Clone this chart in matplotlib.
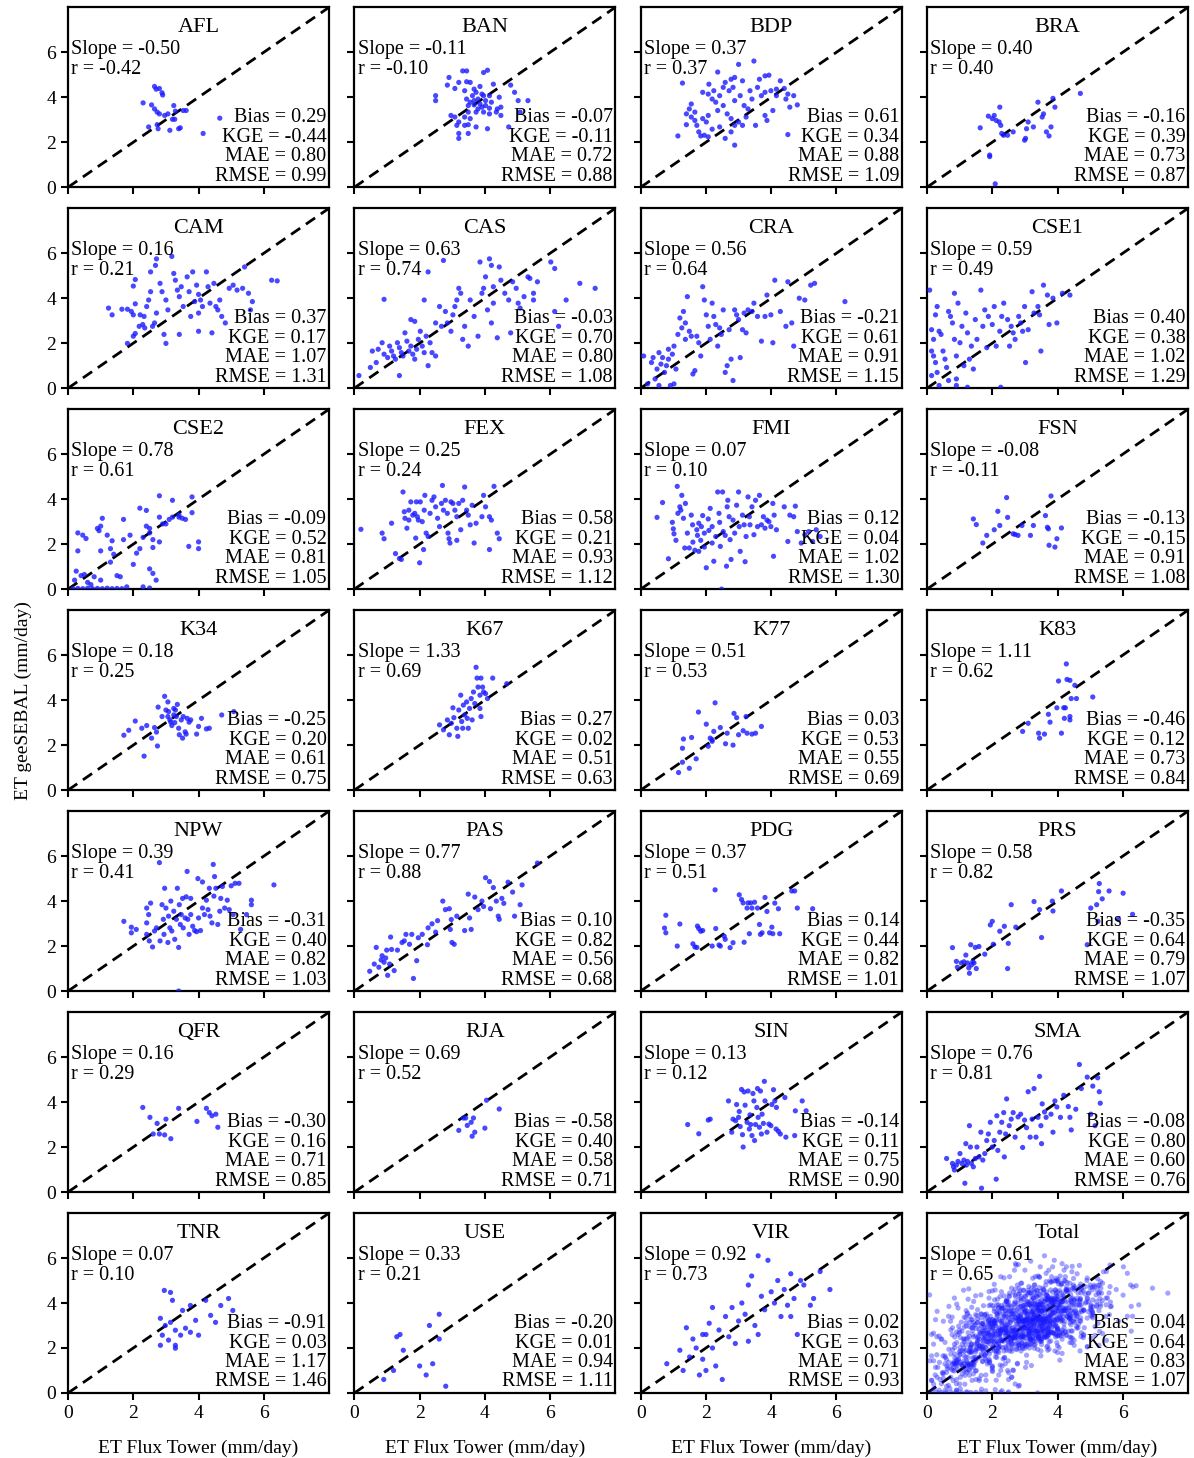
import numpy as np
import matplotlib
matplotlib.use('Agg')
import matplotlib.pyplot as plt

plt.rcParams['font.family'] = ['Liberation Serif', 'DejaVu Serif']

# ---------------------------------------------------------
# Site names and statistics
# ---------------------------------------------------------
sites = ['AFL', 'BAN', 'BDP', 'BRA', 'CAM', 'CAS', 'CRA', 'CSE1', 'CSE2', 'FEX',
         'FMI', 'FSN', 'K34', 'K67', 'K77', 'K83', 'NPW', 'PAS', 'PDG', 'PRS',
         'QFR', 'RJA', 'SIN', 'SMA', 'TNR', 'USE', 'VIR', 'Total']
slope = [-0.50, -0.11, 0.37, 0.40, 0.16, 0.63, 0.56, 0.59, 0.78, 0.25,
         0.07, -0.08, 0.18, 1.33, 0.51, 1.11, 0.39, 0.77, 0.37, 0.58,
         0.16, 0.69, 0.13, 0.76, 0.07, 0.33, 0.92, 0.61]
r_val = [-0.42, -0.10, 0.37, 0.40, 0.21, 0.74, 0.64, 0.49, 0.61, 0.24,
         0.10, -0.11, 0.25, 0.69, 0.53, 0.62, 0.41, 0.88, 0.51, 0.82,
         0.29, 0.52, 0.12, 0.81, 0.10, 0.21, 0.73, 0.65]
bias = [0.29, -0.07, 0.61, -0.16, 0.37, -0.03, -0.21, 0.40, -0.09, 0.58,
        0.12, -0.13, -0.25, 0.27, 0.03, -0.46, -0.31, 0.10, 0.14, -0.35,
        -0.30, -0.58, -0.14, -0.08, -0.91, -0.20, 0.02, 0.04]
kge = [-0.44, -0.11, 0.34, 0.39, 0.17, 0.70, 0.61, 0.38, 0.52, 0.21,
       0.04, -0.15, 0.20, 0.02, 0.53, 0.12, 0.40, 0.82, 0.44, 0.64,
       0.16, 0.40, 0.11, 0.80, 0.03, 0.01, 0.63, 0.64]
mae = [0.80, 0.72, 0.88, 0.73, 1.07, 0.80, 0.91, 1.02, 0.81, 0.93,
       1.02, 0.91, 0.61, 0.51, 0.55, 0.73, 0.82, 0.56, 0.82, 0.79,
       0.71, 0.58, 0.75, 0.60, 1.17, 0.94, 0.71, 0.83]
rmse = [0.99, 0.88, 1.09, 0.87, 1.31, 1.08, 1.15, 1.29, 1.05, 1.12,
        1.30, 1.08, 0.75, 0.63, 0.69, 0.84, 1.03, 0.68, 1.01, 1.07,
        0.85, 0.71, 0.90, 0.76, 1.46, 1.11, 0.93, 1.07]

# ---------------------------------------------------------
# (ET flux tower, ET geeSEBAL) pairs per site, mm/day
# ---------------------------------------------------------
afl = [(2.65, 4.48), (2.7, 4.36), (2.8, 4.39), (2.88, 4.2), (2.9, 4.1), (2.3, 3.75),
       (2.56, 3.66), (2.65, 3.48), (2.73, 3.34), (2.8, 3.26), (2.96, 3.19), (3.06, 3.26),
       (3.24, 3.63), (3.29, 3.38), (3.53, 3.41), (3.62, 3.41), (3.2, 3.02), (3.27, 3.02),
       (2.47, 2.68), (2.73, 2.78), (2.76, 2.6), (3.12, 2.53), (3.39, 2.6), (3.44, 2.64),
       (4.14, 2.39), (4.65, 3.07)]
ban = [(2.49, 4.07), (2.49, 3.85), (2.9, 4.88), (2.85, 4.54), (3.08, 4.39), (3.32, 5.17),
       (3.44, 5.17), (3.96, 5.1), (4.08, 5.2), (3.2, 4.66), (3.44, 4.69), (3.55, 4.66),
       (3.38, 4.29), (3.67, 4.36), (3.85, 4.48), (4.26, 4.58), (4.79, 4.54), (3.44, 3.92),
       (3.62, 4.07), (3.79, 3.92), (3.96, 4.07), (4.02, 3.85), (4.2, 3.78), (4.44, 4.0),
       (4.91, 4.22), (3.49, 3.63), (3.67, 3.66), (3.91, 3.56), (4.14, 3.51), (4.38, 3.48),
       (4.49, 3.56), (5.02, 3.85), (5.32, 3.85), (3.49, 3.34), (3.73, 3.34), (3.96, 3.34),
       (4.14, 3.26), (4.35, 3.34), (3.38, 3.12), (3.08, 3.12), (2.96, 3.19), (3.55, 3.05),
       (3.2, 2.9), (3.14, 2.75), (3.38, 2.75), (3.49, 2.78), (3.73, 2.68), (4.08, 2.6),
       (3.2, 2.39), (3.49, 2.39), (3.2, 2.17), (4.73, 2.68), (4.49, 3.19), (5.08, 3.34),
       (3.67, 3.85), (3.85, 3.7), (4.02, 3.63), (3.79, 3.48), (3.55, 3.78), (3.91, 4.14),
       (4.14, 4.07), (3.73, 4.22)]
bdp = [(1.14, 2.28), (1.28, 4.63), (1.4, 3.26), (1.49, 3.48), (1.55, 3.7), (1.4, 2.78),
       (1.66, 2.97), (1.72, 2.75), (1.78, 2.46), (1.84, 2.28), (1.95, 2.31), (2.07, 2.24),
       (1.9, 4.22), (2.07, 4.14), (2.09, 4.58), (1.9, 3.05), (2.01, 2.9), (2.07, 3.19),
       (2.19, 3.92), (2.3, 3.78), (2.42, 4.07), (2.24, 4.29), (2.36, 5.12), (2.53, 4.44),
       (2.59, 4.66), (2.71, 4.29), (2.77, 4.8), (2.83, 4.44), (3.0, 5.46), (3.12, 4.73),
       (2.88, 4.88), (2.36, 3.41), (2.53, 3.63), (2.65, 3.26), (2.77, 3.05), (2.88, 2.75),
       (3.0, 2.9), (3.12, 2.75), (3.23, 3.12), (3.29, 3.48), (3.41, 3.92), (3.35, 4.29),
       (3.47, 5.61), (3.58, 4.44), (3.64, 4.8), (3.81, 4.95), (3.93, 4.98), (3.7, 4.07),
       (3.81, 4.22), (3.99, 4.29), (4.16, 4.36), (4.28, 4.73), (4.16, 4.07), (4.4, 4.39),
       (4.51, 4.14), (4.45, 3.92), (4.69, 4.07), (4.57, 3.56), (4.8, 3.66), (4.05, 3.41),
       (3.81, 3.19), (3.87, 2.97), (3.52, 2.75), (2.88, 1.87), (2.59, 2.17), (2.77, 2.46),
       (2.19, 2.58), (2.42, 2.68), (4.51, 2.34), (2.88, 3.85), (3.05, 4.07), (3.17, 3.63),
       (1.55, 3.12), (1.66, 3.34)]
bra = [(1.63, 2.64), (1.88, 3.16), (2.06, 3.19), (2.23, 3.56), (2.12, 2.97), (2.21, 2.9),
       (2.26, 2.75), (2.29, 2.39), (2.35, 2.31), (2.47, 2.31), (2.64, 2.46), (2.99, 2.09),
       (3.02, 2.17), (3.05, 2.6), (3.1, 2.9), (3.26, 2.68), (3.4, 3.78), (3.53, 3.12),
       (3.57, 3.26), (3.8, 2.68), (3.66, 2.46), (3.74, 2.28), (3.86, 3.95), (3.92, 3.56),
       (4.7, 4.17), (1.92, 1.43), (1.92, 1.36), (2.09, 0.15), (2.0, 3.05)]
cam = [(1.24, 3.56), (1.35, 3.26), (1.65, 3.51), (1.82, 3.51), (1.94, 3.41), (2.0, 3.26),
       (2.06, 3.75), (2.0, 4.54), (2.06, 4.83), (1.82, 1.99), (2.0, 2.31), (2.06, 2.43),
       (2.18, 2.75), (2.29, 2.83), (2.35, 2.68), (2.21, 3.26), (2.33, 3.19), (2.41, 3.63),
       (2.47, 3.92), (2.53, 4.29), (2.59, 2.75), (2.65, 2.9), (2.71, 3.34), (2.53, 5.17),
       (2.68, 5.46), (2.71, 5.75), (2.82, 4.66), (2.88, 4.29), (3.0, 3.92), (3.06, 3.48),
       (2.94, 2.39), (3.0, 1.99), (3.18, 5.86), (3.24, 5.1), (3.29, 4.8), (3.35, 4.36),
       (3.41, 4.07), (3.47, 4.51), (3.53, 3.63), (3.41, 2.39), (3.65, 4.95), (3.71, 4.29),
       (3.82, 5.17), (3.88, 3.85), (3.94, 4.58), (4.0, 4.17), (4.06, 3.92), (4.12, 3.63),
       (4.0, 2.53), (4.24, 5.17), (4.29, 4.51), (4.35, 3.78), (4.41, 2.46), (4.47, 4.66),
       (4.53, 3.63), (4.59, 3.48), (4.65, 3.92), (4.71, 3.19), (4.82, 2.9), (4.94, 4.44),
       (5.06, 4.58), (5.18, 4.36), (5.35, 4.44), (5.41, 5.39), (5.59, 3.48), (5.65, 3.85),
       (6.24, 4.8), (6.41, 4.77), (5.53, 4.22), (3.76, 3.19), (4.0, 3.34)]
cas = [(0.14, 0.56), (0.49, 0.92), (0.67, 1.14), (0.55, 1.65), (0.73, 1.73), (0.85, 2.02),
       (0.91, 1.51), (1.02, 1.36), (1.08, 1.87), (1.14, 1.65), (1.2, 1.43), (1.26, 1.29),
       (1.32, 2.02), (1.38, 1.8), (1.44, 1.58), (1.49, 1.43), (1.38, 0.56), (1.55, 2.46),
       (1.61, 2.09), (1.67, 1.65), (1.73, 1.87), (1.79, 1.51), (1.85, 1.29), (1.91, 1.73),
       (1.73, 3.05), (1.85, 2.97), (1.96, 2.17), (2.02, 2.53), (2.08, 1.87), (2.14, 1.58),
       (2.2, 2.31), (2.26, 1.0), (2.32, 2.02), (2.38, 1.58), (2.49, 1.43), (0.91, 3.95),
       (2.14, 3.92), (2.26, 5.17), (2.61, 3.63), (2.73, 5.68), (2.79, 3.41), (2.85, 2.9),
       (2.96, 2.53), (3.02, 3.26), (3.08, 3.63), (3.14, 3.92), (3.2, 4.44), (3.26, 4.22),
       (3.32, 2.17), (3.38, 2.75), (3.49, 1.87), (3.55, 3.92), (3.67, 3.19), (3.79, 2.31),
       (3.85, 5.61), (3.91, 4.22), (3.96, 4.44), (4.02, 4.95), (4.08, 3.48), (4.14, 5.75),
       (4.2, 5.46), (4.26, 4.51), (4.26, 3.78), (4.2, 2.9), (4.38, 2.24), (4.44, 5.39),
       (4.49, 4.8), (4.61, 4.22), (4.73, 3.92), (4.79, 2.46), (4.85, 4.73), (4.96, 4.44),
       (5.02, 3.78), (5.08, 3.56), (5.2, 4.07), (5.32, 4.95), (5.38, 4.88), (5.49, 4.22),
       (5.49, 3.92), (5.61, 4.73), (6.02, 5.61), (6.14, 5.32), (6.14, 3.41), (6.91, 4.66),
       (7.38, 4.44), (6.49, 3.92), (6.26, 2.75), (2.49, 2.9), (2.67, 2.75)]
cra = [(0.09, 1.43), (0.33, 1.14), (0.38, 1.36), (0.44, 0.41), (0.5, 0.85), (0.62, 1.07),
       (0.56, 1.58), (0.67, 1.36), (0.73, 0.7), (0.79, 1.0), (0.85, 1.29), (0.91, 0.12),
       (0.85, 1.73), (0.97, 1.51), (1.02, 1.87), (1.08, 0.85), (1.14, 2.39), (1.2, 3.12),
       (1.26, 2.68), (1.31, 3.41), (1.37, 2.9), (1.37, 2.17), (1.43, 4.07), (1.49, 2.53),
       (1.55, 2.31), (1.6, 0.63), (1.66, 0.78), (1.72, 2.31), (1.78, 2.02), (1.84, 1.43),
       (1.9, 4.51), (1.95, 3.92), (2.01, 3.26), (2.07, 2.75), (2.13, 2.17), (2.19, 3.78),
       (2.24, 3.19), (2.3, 2.83), (2.36, 1.87), (2.42, 2.68), (2.47, 2.39), (2.53, 3.48),
       (2.59, 0.7), (2.65, 1.0), (2.71, 2.6), (2.77, 1.29), (2.83, 0.34), (2.88, 3.48),
       (2.94, 3.26), (3.0, 3.05), (3.05, 1.36), (3.12, 2.6), (3.17, 3.34), (3.23, 2.46),
       (3.29, 3.48), (3.41, 3.41), (3.47, 3.78), (3.58, 3.19), (3.7, 2.09), (3.81, 3.19),
       (3.87, 4.14), (3.99, 3.26), (4.05, 2.02), (4.11, 4.8), (4.28, 3.41), (4.45, 2.75),
       (4.51, 4.73), (4.63, 2.9), (4.86, 4.0), (5.03, 3.92), (5.21, 4.58), (5.33, 4.66),
       (6.26, 3.85), (4.69, 1.87), (0.56, 0.12), (1.02, 0.19), (0.21, 0.19)]
cse1 = [(0.08, 4.36), (0.14, 2.6), (0.2, 2.17), (0.14, 1.65), (0.2, 1.43), (0.26, 1.14),
        (0.14, 0.56), (0.31, 0.7), (0.37, 0.12), (0.26, 3.26), (0.31, 3.63), (0.37, 2.53),
        (0.43, 2.39), (0.49, 1.65), (0.55, 1.29), (0.6, 0.92), (0.66, 3.41), (0.66, 0.34),
        (0.72, 3.19), (0.78, 2.9), (0.84, 4.22), (0.84, 2.17), (0.9, 1.43), (0.9, 0.41),
        (0.95, 3.78), (1.01, 2.02), (1.07, 2.75), (1.13, 1.0), (1.19, 3.34), (1.24, 2.46),
        (1.3, 1.29), (1.36, 1.87), (1.42, 0.85), (1.48, 3.05), (1.53, 2.17), (1.65, 4.36),
        (1.71, 2.75), (1.77, 3.48), (1.83, 1.8), (1.88, 3.19), (2.0, 2.83), (2.06, 3.63),
        (2.12, 1.87), (2.23, 2.53), (2.29, 3.19), (2.35, 3.78), (2.47, 3.05), (2.53, 1.87),
        (2.58, 2.75), (2.64, 2.46), (2.7, 2.17), (2.81, 3.19), (2.87, 2.9), (2.93, 2.53),
        (2.99, 3.63), (3.02, 1.14), (3.1, 2.6), (3.22, 4.29), (3.28, 3.34), (3.4, 3.63),
        (3.45, 3.26), (3.49, 1.65), (3.57, 4.58), (3.69, 4.14), (3.74, 2.83), (3.86, 4.0),
        (3.98, 2.9), (4.15, 4.22), (4.38, 4.14), (2.26, 0.04), (1.24, 0.04), (0.9, 0.12)]
cse2 = [(0.15, 0.02), (0.3, 0.03), (0.45, 0.02), (0.6, 0.04), (0.75, 0.02), (0.9, 0.03),
        (1.05, 0.02), (1.2, 0.04), (1.35, 0.02), (1.5, 0.03), (1.65, 0.02), (1.8, 0.1),
        (2.3, 0.1), (2.5, 0.05), (0.2, 0.4), (0.25, 0.8), (0.4, 0.6), (0.5, 0.65),
        (0.6, 0.3), (0.7, 0.2), (0.8, 0.55), (1.0, 0.4), (0.3, 2.5), (0.45, 2.4),
        (0.55, 2.25), (0.3, 1.7), (0.9, 2.7), (0.95, 2.6), (1.0, 2.8), (1.05, 3.15),
        (1.0, 1.7), (1.2, 2.4), (1.3, 1.8), (1.35, 2.15), (1.4, 1.55), (1.3, 1.2),
        (1.5, 0.6), (1.6, 0.55), (1.7, 2.2), (1.7, 3.1), (1.9, 2.4), (2.0, 1.1),
        (2.1, 1.6), (2.2, 1.8), (2.2, 3.6), (2.4, 3.5), (2.3, 2.3), (2.4, 2.8),
        (2.5, 2.7), (2.6, 2.2), (2.6, 1.85), (2.5, 0.9), (2.6, 0.7), (2.7, 0.4),
        (2.5, 2.5), (2.8, 3.2), (2.9, 2.9), (2.8, 2.1), (2.8, 4.15), (3.2, 3.95),
        (3.0, 2.9), (3.1, 3.1), (3.2, 3.2), (3.4, 3.2), (3.6, 3.1), (3.5, 3.15),
        (3.8, 4.1), (3.8, 3.4), (3.4, 3.3), (3.7, 1.9), (4.0, 2.1), (4.0, 1.8)]
fex = [(0.2, 2.66), (0.85, 2.49), (0.91, 2.24), (1.14, 2.93), (1.26, 1.58), (1.38, 1.36),
       (1.44, 1.32), (1.49, 4.32), (1.53, 3.44), (1.55, 3.15), (1.61, 2.71), (1.67, 3.07),
       (1.73, 3.88), (1.79, 3.29), (1.85, 3.37), (1.88, 2.27), (1.93, 3.22), (1.96, 3.07),
       (2.0, 1.17), (2.02, 3.88), (2.08, 3.0), (2.12, 1.76), (2.14, 3.51), (2.16, 4.17),
       (2.2, 2.49), (2.26, 2.34), (2.32, 3.37), (2.38, 3.95), (2.44, 4.1), (2.49, 3.66),
       (2.55, 3.15), (2.61, 2.78), (2.67, 3.81), (2.7, 4.61), (2.73, 3.51), (2.79, 3.95),
       (2.85, 3.37), (2.87, 2.49), (2.9, 2.24), (2.93, 2.05), (2.96, 3.88), (3.02, 3.81),
       (3.08, 3.51), (3.14, 3.22), (3.14, 2.17), (3.2, 3.81), (3.26, 2.64), (3.32, 3.95),
       (3.38, 4.54), (3.44, 3.51), (3.49, 3.29), (3.55, 2.86), (3.61, 3.73), (3.67, 2.05),
       (3.73, 2.93), (3.91, 3.22), (3.96, 4.17), (4.02, 3.66), (4.14, 3.22), (4.2, 3.07),
       (4.28, 4.57), (4.38, 2.49), (4.44, 2.24), (4.14, 1.76), (1.67, 3.51), (1.9, 3.88)]
fmi = [(0.5, 3.19), (0.67, 3.85), (0.85, 1.35), (0.97, 2.97), (1.0, 2.68), (1.02, 2.46),
       (1.08, 2.17), (1.12, 4.57), (1.14, 3.37), (1.2, 3.66), (1.23, 3.51), (1.26, 4.17),
       (1.31, 3.15), (1.35, 1.83), (1.37, 3.81), (1.43, 2.49), (1.49, 1.83), (1.55, 3.29),
       (1.59, 2.86), (1.6, 2.09), (1.66, 1.73), (1.72, 2.64), (1.74, 2.39), (1.78, 1.68),
       (1.84, 2.17), (1.86, 2.78), (1.9, 3.27), (1.95, 1.87), (2.01, 0.95), (2.07, 3.12),
       (2.09, 2.61), (2.13, 3.59), (2.19, 2.78), (2.24, 1.24), (2.3, 2.34), (2.36, 4.32),
       (2.4, 3.37), (2.42, 2.97), (2.44, 1.9), (2.48, 0.0), (2.51, 4.32), (2.53, 2.56),
       (2.59, 2.39), (2.63, 1.02), (2.65, 3.66), (2.67, 3.95), (2.71, 3.22), (2.74, 2.2),
       (2.77, 1.32), (2.83, 3.07), (2.88, 2.49), (2.94, 3.73), (3.0, 4.32), (3.02, 2.78),
       (3.05, 1.68), (3.12, 3.29), (3.17, 2.86), (3.2, 1.22), (3.23, 2.34), (3.29, 4.1),
       (3.33, 3.22), (3.35, 2.86), (3.41, 3.66), (3.47, 2.42), (3.52, 3.95), (3.58, 2.78),
       (3.64, 4.17), (3.7, 2.86), (3.76, 3.22), (3.81, 2.71), (3.87, 3.07), (3.93, 3.0),
       (3.99, 2.78), (4.05, 3.81), (4.07, 1.46), (4.09, 3.29), (4.16, 2.64), (4.4, 3.66),
       (4.51, 2.12), (4.57, 3.29), (4.69, 3.22), (4.74, 3.69), (4.8, 2.56), (4.92, 2.05),
       (5.03, 2.42), (5.15, 2.56), (5.27, 2.12), (5.38, 2.64), (5.5, 2.34), (1.78, 2.93),
       (1.95, 2.49), (2.19, 2.05)]
fsn = [(1.42, 3.12), (1.51, 2.87), (1.71, 2.05), (1.83, 2.39), (2.06, 2.64), (2.17, 3.46),
       (2.23, 2.83), (2.44, 4.07), (2.47, 3.19), (2.64, 2.46), (2.7, 2.43), (2.79, 2.39),
       (2.91, 2.83), (3.17, 2.39), (3.26, 2.83), (3.63, 3.27), (3.69, 2.75), (3.8, 4.14),
       (3.74, 1.95), (3.92, 1.87), (3.98, 2.24), (4.12, 2.72), (3.72, 2.68)]
k34 = [(1.71, 2.44), (1.86, 2.66), (2.06, 3.07), (2.33, 1.51), (2.26, 2.75), (2.41, 2.87),
       (2.56, 2.31), (2.65, 2.78), (2.71, 2.58), (2.74, 1.96), (2.76, 3.69), (2.88, 3.27),
       (2.96, 4.17), (3.0, 3.56), (3.06, 3.27), (3.08, 3.49), (3.12, 3.12), (3.15, 3.02),
       (3.18, 2.87), (3.24, 3.34), (3.27, 3.0), (3.29, 3.56), (3.32, 3.27), (3.35, 3.81),
       (3.39, 2.75), (3.41, 2.46), (3.47, 3.12), (3.51, 2.31), (3.53, 3.27), (3.59, 2.59),
       (3.62, 2.49), (3.65, 3.19), (3.71, 3.02), (3.76, 3.12), (3.94, 2.49), (4.0, 2.83),
       (4.09, 3.19), (4.24, 2.72), (4.33, 2.75), (4.71, 3.34), (5.08, 3.49), (3.24, 3.63),
       (3.06, 3.92)]
k67 = [(2.61, 2.9), (2.73, 2.68), (2.85, 3.12), (2.91, 2.46), (3.02, 3.66), (3.05, 3.22),
       (3.14, 2.75), (3.17, 2.39), (3.2, 3.56), (3.26, 4.22), (3.29, 3.05), (3.34, 3.78),
       (3.38, 3.34), (3.44, 3.92), (3.46, 3.19), (3.49, 2.75), (3.53, 3.63), (3.58, 4.07),
       (3.61, 3.12), (3.65, 4.36), (3.69, 3.85), (3.73, 5.46), (3.76, 4.98), (3.79, 4.58),
       (3.85, 4.22), (3.88, 4.98), (3.93, 4.58), (3.96, 4.36), (3.85, 3.63), (3.88, 3.27),
       (4.02, 4.29), (4.08, 4.07), (4.24, 4.98), (4.67, 4.73), (3.32, 2.75), (2.97, 2.97)]
k77 = [(1.16, 0.78), (1.28, 1.24), (1.28, 1.86), (1.31, 2.27), (1.49, 0.97), (1.56, 2.34),
       (1.7, 1.39), (1.77, 3.47), (2.01, 2.93), (2.07, 1.95), (2.13, 2.31), (2.19, 2.17),
       (2.24, 2.61), (2.28, 3.88), (2.44, 2.78), (2.6, 2.06), (2.65, 2.53), (2.83, 2.0),
       (2.86, 3.41), (2.94, 3.22), (3.0, 2.46), (3.14, 2.64), (3.23, 3.27), (3.26, 2.53),
       (3.41, 2.49), (3.52, 2.53), (3.7, 2.83), (2.19, 2.24)]
k83 = [(2.93, 2.61), (3.1, 2.97), (3.42, 2.53), (3.45, 2.31), (3.6, 2.49), (3.72, 3.37),
       (3.77, 3.02), (3.98, 3.66), (4.03, 4.85), (4.12, 2.53), (4.19, 3.66), (4.21, 3.19),
       (4.27, 5.61), (4.29, 4.92), (4.38, 4.88), (4.38, 3.27), (4.42, 4.07), (4.53, 4.66),
       (4.58, 4.07), (5.08, 4.14), (4.38, 3.12), (4.24, 3.66)]
npw = [(1.71, 3.1), (1.94, 2.84), (1.94, 2.59), (2.09, 2.74), (2.41, 2.52), (2.41, 3.03),
       (2.41, 3.69), (2.47, 3.4), (2.49, 2.23), (2.53, 3.91), (2.59, 1.96), (2.65, 2.67),
       (2.71, 2.81), (2.8, 5.71), (2.82, 2.23), (2.88, 3.84), (2.92, 3.19), (2.94, 2.52),
       (2.96, 4.57), (3.0, 3.69), (3.06, 2.16), (3.08, 3.33), (3.12, 2.81), (3.15, 4.0),
       (3.18, 2.67), (3.24, 3.55), (3.27, 2.3), (3.32, 3.19), (3.35, 4.57), (3.39, 1.94),
       (3.41, 3.84), (3.44, 2.96), (3.47, 3.4), (3.51, 4.12), (3.53, 2.81), (3.59, 3.25),
       (3.62, 4.19), (3.65, 5.32), (3.67, 3.19), (3.71, 2.52), (3.76, 4.12), (3.82, 2.88),
       (3.88, 2.69), (3.94, 2.64), (3.98, 5.0), (4.0, 3.25), (4.06, 2.69), (4.12, 4.85),
       (4.18, 3.4), (4.24, 4.04), (4.29, 3.62), (4.33, 4.57), (4.35, 3.33), (4.41, 3.03),
       (4.45, 5.63), (4.47, 4.22), (4.49, 5.09), (4.53, 4.57), (4.59, 2.96), (4.65, 3.55),
       (4.68, 4.12), (4.73, 4.65), (4.8, 3.69), (4.88, 4.04), (4.94, 3.62), (5.0, 4.68),
       (5.06, 3.4), (5.12, 4.79), (5.24, 4.79), (5.29, 2.74), (5.47, 3.4), (5.62, 4.04),
       (5.62, 3.84), (6.31, 4.72), (3.39, 0.0), (4.12, 3.69), (3.76, 3.4)]
pas = [(0.47, 0.88), (0.61, 1.2), (0.67, 1.94), (0.75, 1.06), (0.82, 1.38), (0.85, 1.57),
       (0.91, 1.28), (0.96, 1.47), (0.99, 1.82), (1.02, 0.7), (1.08, 1.2), (1.11, 2.4),
       (1.14, 1.85), (1.22, 0.91), (1.32, 1.82), (1.46, 2.16), (1.53, 2.23), (1.58, 2.52),
       (1.69, 2.08), (1.76, 2.52), (1.81, 0.56), (1.91, 1.35), (1.96, 2.37), (2.08, 2.52),
       (2.24, 2.06), (2.26, 2.81), (2.38, 2.99), (2.55, 3.13), (2.71, 4.0), (2.79, 3.62),
       (2.91, 3.66), (2.94, 2.74), (2.99, 2.16), (3.06, 2.08), (3.14, 3.33), (3.38, 2.69),
       (3.49, 4.31), (3.53, 3.25), (3.58, 2.74), (3.69, 4.18), (3.79, 3.62), (3.91, 4.0),
       (3.96, 3.76), (4.02, 5.04), (4.14, 4.87), (4.17, 3.66), (4.26, 4.6), (4.35, 4.0),
       (4.41, 3.33), (4.44, 3.19), (4.52, 4.12), (4.58, 3.9), (4.71, 4.84), (4.85, 4.4),
       (4.91, 3.33), (5.14, 4.72), (5.08, 3.84), (5.61, 5.69), (2.97, 3.18), (2.49, 2.62)]
pdg = [(0.77, 3.37), (0.73, 2.8), (0.77, 2.59), (1.12, 2.0), (1.2, 2.98), (1.6, 2.1),
       (1.66, 1.96), (1.72, 1.94), (1.74, 2.89), (1.78, 2.78), (1.84, 2.66), (1.9, 2.69),
       (2.19, 2.0), (2.28, 4.5), (2.3, 2.78), (2.4, 2.05), (2.44, 2.0), (2.56, 2.44),
       (2.59, 2.3), (2.74, 1.93), (2.83, 2.15), (3.02, 4.28), (3.09, 4.07), (3.14, 3.92),
       (3.17, 2.17), (3.26, 3.69), (3.29, 3.92), (3.33, 2.55), (3.37, 3.92), (3.41, 3.69),
       (3.49, 3.95), (3.58, 3.69), (3.64, 2.96), (3.67, 2.52), (3.72, 2.59), (3.81, 4.16),
       (3.87, 3.54), (3.95, 2.59), (4.02, 2.84), (4.05, 2.55), (4.11, 3.91), (4.22, 3.66),
       (4.26, 2.55), (4.63, 4.45), (4.72, 4.45), (4.8, 3.69), (5.27, 3.66)]
prs = [(0.78, 1.93), (0.9, 1.32), (0.93, 1.06), (1.05, 1.25), (1.13, 1.3), (1.19, 1.6),
       (1.24, 1.25), (1.28, 1.03), (1.3, 0.79), (1.34, 2.06), (1.36, 1.16), (1.4, 1.3),
       (1.44, 1.25), (1.48, 1.94), (1.51, 1.0), (1.59, 1.98), (1.77, 1.64), (1.94, 2.94),
       (2.0, 3.1), (2.03, 2.08), (2.23, 2.66), (2.37, 2.88), (2.47, 1.0), (2.49, 2.12),
       (2.58, 3.84), (2.72, 2.84), (3.28, 3.98), (3.45, 3.62), (3.51, 2.38), (3.84, 4.0),
       (3.86, 3.56), (4.12, 4.45), (4.91, 2.06), (5.02, 3.69), (5.2, 3.84), (5.26, 4.42),
       (5.28, 4.78), (5.37, 4.1), (5.58, 4.45), (6.01, 4.35), (5.24, 3.1), (5.87, 3.19),
       (6.3, 3.41)]
qfr = [(2.29, 3.76), (2.51, 3.32), (2.61, 2.58), (2.73, 3.05), (2.8, 2.58), (2.96, 2.54),
       (3.0, 3.24), (3.15, 2.37), (3.39, 3.72), (3.95, 3.14), (4.24, 3.72), (4.33, 3.53),
       (4.41, 3.39), (4.53, 3.46), (4.59, 2.88)]
rja = [(3.2, 2.74), (3.34, 3.29), (3.41, 3.29), (3.46, 2.96), (3.58, 3.1), (3.61, 2.48),
       (3.65, 3.29), (3.69, 2.66), (4.0, 2.84), (4.05, 4.08), (4.44, 3.69)]
sin = [(1.44, 3.0), (1.78, 2.59), (2.07, 3.2), (2.13, 3.24), (2.69, 4.05), (2.79, 2.66),
       (2.83, 3.24), (2.91, 3.17), (2.94, 3.89), (3.0, 3.32), (3.02, 3.58), (3.05, 2.91),
       (3.09, 4.56), (3.12, 2.55), (3.14, 2.0), (3.17, 4.45), (3.2, 3.86), (3.26, 3.1),
       (3.29, 4.49), (3.33, 2.8), (3.35, 3.43), (3.37, 3.0), (3.41, 2.51), (3.44, 4.38),
       (3.47, 4.05), (3.49, 2.29), (3.52, 3.0), (3.56, 3.76), (3.58, 4.6), (3.6, 3.32),
       (3.64, 2.88), (3.67, 4.49), (3.7, 2.58), (3.72, 3.46), (3.76, 3.05), (3.79, 4.92),
       (3.81, 4.05), (3.87, 2.66), (3.93, 3.02), (3.99, 2.95), (4.02, 3.89), (4.07, 4.55),
       (4.11, 4.05), (4.15, 2.8), (4.16, 3.76), (4.22, 2.7), (4.28, 2.58), (4.42, 4.2),
       (4.45, 2.44), (4.72, 2.51), (4.74, 3.61), (4.95, 4.05), (5.07, 3.61)]
sma = [(0.6, 1.49), (0.78, 1.27), (0.81, 1.12), (0.84, 0.98), (0.9, 1.2), (0.95, 1.36),
       (1.01, 1.71), (1.07, 1.27), (1.13, 1.42), (1.16, 0.39), (1.19, 2.15), (1.21, 1.2),
       (1.24, 1.36), (1.3, 2.95), (1.33, 2.0), (1.36, 1.27), (1.42, 1.12), (1.48, 1.49),
       (1.53, 2.0), (1.59, 1.56), (1.65, 2.66), (1.67, 0.17), (1.71, 1.42), (1.77, 1.71),
       (1.83, 2.29), (1.88, 2.58), (1.94, 3.1), (2.0, 2.0), (2.06, 2.29), (2.12, 0.57),
       (2.14, 3.39), (2.17, 1.85), (2.23, 2.66), (2.29, 3.1), (2.35, 3.53), (2.37, 1.56),
       (2.41, 2.58), (2.44, 4.14), (2.52, 2.95), (2.58, 3.24), (2.64, 3.53), (2.7, 2.44),
       (2.79, 3.34), (2.87, 3.46), (2.93, 1.98), (2.99, 3.2), (3.05, 2.86), (3.1, 4.46),
       (3.16, 2.44), (3.22, 3.24), (3.28, 4.6), (3.34, 2.44), (3.4, 3.32), (3.45, 5.14),
       (3.49, 2.95), (3.51, 2.15), (3.53, 3.92), (3.6, 3.56), (3.65, 3.32), (3.8, 3.46),
       (3.86, 2.66), (3.92, 4.05), (3.98, 3.78), (4.09, 3.32), (4.19, 4.3), (4.33, 3.8),
       (4.38, 3.32), (4.42, 2.76), (4.56, 3.68), (4.67, 5.67), (4.73, 4.6), (4.91, 5.11),
       (5.02, 3.46), (5.08, 4.71), (5.23, 5.08), (5.28, 4.46), (5.31, 3.95), (5.15, 2.95)]
tnr = [(2.95, 4.56), (3.14, 4.47), (3.2, 4.12), (2.83, 3.32), (2.98, 3.0), (3.14, 3.14),
       (3.29, 2.79), (2.89, 2.57), (3.08, 2.35), (3.29, 2.12), (3.45, 2.57), (3.6, 2.88),
       (3.75, 2.7), (3.91, 3.23), (3.51, 3.67), (3.75, 3.89), (4.22, 4.12), (4.37, 3.45),
       (4.52, 3.14), (4.68, 3.89), (4.92, 4.2), (5.05, 3.67), (3.29, 1.99), (2.83, 2.12),
       (4.0, 2.57)]
use = [(0.9, 0.6), (1.2, 1.0), (1.3, 2.5), (1.4, 2.6), (1.5, 1.9), (2.0, 1.2),
       (2.2, 0.8), (2.3, 3.0), (2.4, 1.3), (2.6, 3.5), (2.6, 2.4), (2.8, 0.3)]
vir = [(0.8, 1.3), (1.3, 1.0), (1.5, 1.6), (1.6, 2.4), (1.7, 2.0), (1.8, 0.8),
       (1.9, 1.5), (2.0, 2.6), (2.1, 3.1), (2.2, 2.0), (2.3, 1.2), (2.4, 2.8),
       (2.5, 0.6), (2.6, 3.4), (2.7, 2.5), (2.8, 3.8), (2.9, 2.2), (3.0, 3.2),
       (3.1, 4.0), (3.2, 3.5), (3.3, 4.8), (3.4, 5.2), (3.5, 3.0), (3.6, 6.1),
       (3.7, 4.3), (3.8, 3.7), (3.9, 5.9), (4.0, 4.5), (4.1, 4.0), (4.2, 5.0),
       (4.3, 3.4), (4.4, 4.6), (4.5, 3.9), (4.6, 5.3), (4.7, 4.2), (4.8, 2.6),
       (4.9, 5.0), (5.0, 4.8), (5.2, 3.9), (5.3, 4.2), (5.5, 5.4), (5.8, 4.6),
       (1.2, 1.9), (2.0, 1.0), (3.3, 2.3), (3.6, 2.6), (4.6, 3.4), (2.2, 3.8),
       (1.4, 2.9), (1.9, 2.6)]

site_points = [afl, ban, bdp, bra, cam, cas, cra, cse1, cse2, fex, fmi, fsn, k34, k67,
               k77, k83, npw, pas, pdg, prs, qfr, rja, sin, sma, tnr, use, vir]
# Total panel pools all sites
total = [p for pts in site_points for p in pts]
site_points.append(total)

# ---------------------------------------------------------
# Figure
# ---------------------------------------------------------
fig, axes = plt.subplots(7, 4, figsize=(11.94, 14.58), dpi=100, sharex=True, sharey=True)
fig.subplots_adjust(left=0.057, right=0.995, top=0.995, bottom=0.0446,
                    wspace=0.097, hspace=0.117)

for i, ax in enumerate(axes.flat):
    pts = np.array(site_points[i])
    is_total = sites[i] == 'Total'
    ax.plot([0, 8], [0, 8], color='black', linestyle='--', linewidth=2, dashes=(4, 2.5), zorder=2)
    ax.scatter(pts[:, 0], pts[:, 1], s=14 if is_total else 14, color='#1a1aff',
               alpha=0.4 if is_total else 0.8, edgecolors='none', zorder=3)

    ax.text(0.5, 0.885, sites[i], transform=ax.transAxes, ha='center', va='center', fontsize=16)
    ax.text(0.012, 0.765, f'Slope = {slope[i]:.2f}', transform=ax.transAxes,
            ha='left', va='center', fontsize=14.5)
    ax.text(0.012, 0.655, f'r = {r_val[i]:.2f}', transform=ax.transAxes,
            ha='left', va='center', fontsize=14.5)
    right_lines = [f'Bias = {bias[i]:.2f}', f'KGE = {kge[i]:.2f}',
                   f'MAE = {mae[i]:.2f}', f'RMSE = {rmse[i]:.2f}']
    for j, line in enumerate(right_lines):
        ax.text(0.99, 0.385 - j * 0.108, line, transform=ax.transAxes,
                ha='right', va='center', fontsize=14.5)

    ax.set_xlim(0, 8)
    ax.set_ylim(0, 8)
    ax.set_xticks([0, 2, 4, 6])
    ax.set_yticks([0, 2, 4, 6])
    ax.tick_params(direction='out', length=5, width=1.5, labelsize=14)
    for sp in ax.spines.values():
        sp.set_linewidth(1.6)

for ax in axes[-1, :]:
    ax.set_xlabel('ET Flux Tower (mm/day)', fontsize=14, labelpad=13)
axes[3, 0].set_ylabel('ET geeSEBAL (mm/day)', fontsize=14, labelpad=10)

plt.savefig('out.png', dpi=100)
